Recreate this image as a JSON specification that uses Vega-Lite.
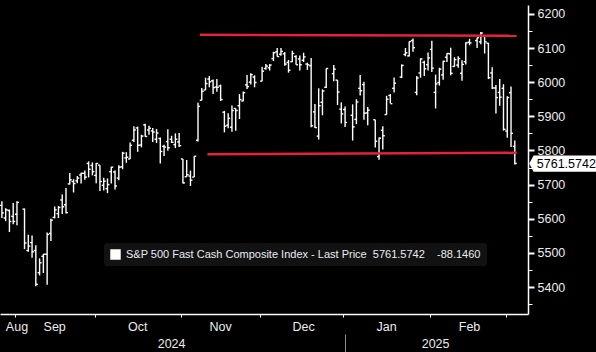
{
  "$schema": "https://vega.github.io/schema/vega-lite/v6.json",
  "width": 528,
  "height": 309,
  "autosize": {"type": "none"},
  "padding": {"left": 0, "top": 5, "right": 68, "bottom": 38},
  "background": "#000000",
  "config": {"view": {"stroke": null}, "font": "Liberation Sans"},
  "datasets": {
    "ohlc": [
      {"date":"2024-08-26","open":5639,"high":5651,"low":5602,"close":5617},
      {"date":"2024-08-27","open":5602,"high":5631,"low":5593,"close":5626},
      {"date":"2024-08-28","open":5624,"high":5627,"low":5561,"close":5592},
      {"date":"2024-08-29","open":5607,"high":5646,"low":5584,"close":5592},
      {"date":"2024-08-30","open":5613,"high":5651,"low":5581,"close":5648},
      {"date":"2024-09-03","open":5628,"high":5630,"low":5511,"close":5529},
      {"date":"2024-09-04","open":5507,"high":5553,"low":5503,"close":5520},
      {"date":"2024-09-05","open":5530,"high":5551,"low":5486,"close":5503},
      {"date":"2024-09-06","open":5507,"high":5522,"low":5402,"close":5408},
      {"date":"2024-09-09","open":5442,"high":5484,"low":5434,"close":5471},
      {"date":"2024-09-10","open":5490,"high":5497,"low":5441,"close":5496},
      {"date":"2024-09-11","open":5496,"high":5560,"low":5407,"close":5554},
      {"date":"2024-09-12","open":5557,"high":5600,"low":5535,"close":5596},
      {"date":"2024-09-13","open":5604,"high":5636,"low":5601,"close":5626},
      {"date":"2024-09-16","open":5615,"high":5637,"low":5602,"close":5633},
      {"date":"2024-09-17","open":5655,"high":5671,"low":5614,"close":5635},
      {"date":"2024-09-18","open":5641,"high":5690,"low":5615,"close":5618},
      {"date":"2024-09-19","open":5702,"high":5734,"low":5700,"close":5714},
      {"date":"2024-09-20","open":5709,"high":5716,"low":5677,"close":5703},
      {"date":"2024-09-23","open":5711,"high":5725,"low":5704,"close":5719},
      {"date":"2024-09-24","open":5728,"high":5735,"low":5703,"close":5733},
      {"date":"2024-09-25","open":5733,"high":5741,"low":5714,"close":5722},
      {"date":"2024-09-26","open":5762,"high":5768,"low":5721,"close":5745},
      {"date":"2024-09-27","open":5756,"high":5765,"low":5727,"close":5738},
      {"date":"2024-09-30","open":5727,"high":5763,"low":5704,"close":5762},
      {"date":"2024-10-01","open":5757,"high":5757,"low":5681,"close":5709},
      {"date":"2024-10-02","open":5698,"high":5720,"low":5683,"close":5710},
      {"date":"2024-10-03","open":5688,"high":5718,"low":5675,"close":5700},
      {"date":"2024-10-04","open":5738,"high":5752,"low":5703,"close":5751},
      {"date":"2024-10-07","open":5737,"high":5741,"low":5686,"close":5696},
      {"date":"2024-10-08","open":5719,"high":5757,"low":5713,"close":5751},
      {"date":"2024-10-09","open":5752,"high":5796,"low":5745,"close":5792},
      {"date":"2024-10-10","open":5778,"high":5795,"low":5764,"close":5780},
      {"date":"2024-10-11","open":5775,"high":5823,"low":5775,"close":5815},
      {"date":"2024-10-14","open":5830,"high":5871,"low":5825,"close":5860},
      {"date":"2024-10-15","open":5866,"high":5870,"low":5796,"close":5815},
      {"date":"2024-10-16","open":5816,"high":5846,"low":5809,"close":5842},
      {"date":"2024-10-17","open":5875,"high":5878,"low":5840,"close":5841},
      {"date":"2024-10-18","open":5860,"high":5872,"low":5846,"close":5865},
      {"date":"2024-10-21","open":5857,"high":5866,"low":5825,"close":5854},
      {"date":"2024-10-22","open":5833,"high":5863,"low":5822,"close":5851},
      {"date":"2024-10-23","open":5835,"high":5838,"low":5762,"close":5797},
      {"date":"2024-10-24","open":5812,"high":5817,"low":5784,"close":5810},
      {"date":"2024-10-25","open":5826,"high":5862,"low":5799,"close":5808},
      {"date":"2024-10-28","open":5833,"high":5843,"low":5822,"close":5824},
      {"date":"2024-10-29","open":5817,"high":5850,"low":5807,"close":5833},
      {"date":"2024-10-30","open":5825,"high":5851,"low":5810,"close":5814},
      {"date":"2024-10-31","open":5775,"high":5775,"low":5703,"close":5705},
      {"date":"2024-11-01","open":5723,"high":5772,"low":5723,"close":5729},
      {"date":"2024-11-04","open":5725,"high":5741,"low":5696,"close":5713},
      {"date":"2024-11-05","open":5722,"high":5783,"low":5722,"close":5783},
      {"date":"2024-11-06","open":5830,"high":5940,"low":5826,"close":5929},
      {"date":"2024-11-07","open":5947,"high":5983,"low":5947,"close":5973},
      {"date":"2024-11-08","open":5977,"high":6013,"low":5977,"close":5996},
      {"date":"2024-11-11","open":6009,"high":6018,"low":5985,"close":6001},
      {"date":"2024-11-12","open":6004,"high":6008,"low":5965,"close":5984},
      {"date":"2024-11-13","open":5986,"high":6009,"low":5972,"close":5985},
      {"date":"2024-11-14","open":5989,"high":5993,"low":5945,"close":5949},
      {"date":"2024-11-15","open":5912,"high":5916,"low":5853,"close":5871},
      {"date":"2024-11-18","open":5874,"high":5909,"low":5865,"close":5894},
      {"date":"2024-11-19","open":5868,"high":5932,"low":5855,"close":5917},
      {"date":"2024-11-20","open":5923,"high":5923,"low":5858,"close":5917},
      {"date":"2024-11-21","open":5931,"high":5965,"low":5892,"close":5949},
      {"date":"2024-11-22","open":5945,"high":5973,"low":5944,"close":5969},
      {"date":"2024-11-25","open":5992,"high":6021,"low":5980,"close":5987},
      {"date":"2024-11-26","open":6000,"high":6026,"low":5993,"close":6022},
      {"date":"2024-11-27","open":6015,"high":6020,"low":5985,"close":5999},
      {"date":"2024-11-29","open":6003,"high":6045,"low":6003,"close":6032},
      {"date":"2024-12-02","open":6040,"high":6053,"low":6036,"close":6047},
      {"date":"2024-12-03","open":6042,"high":6053,"low":6034,"close":6050},
      {"date":"2024-12-04","open":6069,"high":6089,"low":6062,"close":6086},
      {"date":"2024-12-05","open":6089,"high":6100,"low":6075,"close":6075},
      {"date":"2024-12-06","open":6082,"high":6100,"low":6077,"close":6090},
      {"date":"2024-12-09","open":6083,"high":6088,"low":6048,"close":6053},
      {"date":"2024-12-10","open":6058,"high":6065,"low":6028,"close":6035},
      {"date":"2024-12-11","open":6060,"high":6092,"low":6059,"close":6084},
      {"date":"2024-12-12","open":6075,"high":6079,"low":6051,"close":6051},
      {"date":"2024-12-13","open":6068,"high":6078,"low":6034,"close":6051},
      {"date":"2024-12-16","open":6064,"high":6086,"low":6059,"close":6074},
      {"date":"2024-12-17","open":6053,"high":6057,"low":6036,"close":6051},
      {"date":"2024-12-18","open":6048,"high":6071,"low":5868,"close":5872},
      {"date":"2024-12-19","open":5913,"high":5936,"low":5866,"close":5867},
      {"date":"2024-12-20","open":5842,"high":5982,"low":5832,"close":5931},
      {"date":"2024-12-23","open":5941,"high":5979,"low":5903,"close":5974},
      {"date":"2024-12-24","open":5985,"high":6040,"low":5983,"close":6040},
      {"date":"2024-12-26","open":6025,"high":6050,"low":6003,"close":6038},
      {"date":"2024-12-27","open":6006,"high":6006,"low":5933,"close":5971},
      {"date":"2024-12-30","open":5921,"high":5941,"low":5879,"close":5907},
      {"date":"2024-12-31","open":5920,"high":5929,"low":5869,"close":5882},
      {"date":"2025-01-02","open":5903,"high":5935,"low":5829,"close":5869},
      {"date":"2025-01-03","open":5891,"high":5950,"low":5877,"close":5942},
      {"date":"2025-01-06","open":5982,"high":6021,"low":5961,"close":5975},
      {"date":"2025-01-07","open":5993,"high":6001,"low":5890,"close":5909},
      {"date":"2025-01-08","open":5910,"high":5927,"low":5874,"close":5918},
      {"date":"2025-01-10","open":5890,"high":5890,"low":5809,"close":5827},
      {"date":"2025-01-13","open":5782,"high":5838,"low":5773,"close":5836},
      {"date":"2025-01-14","open":5859,"high":5871,"low":5803,"close":5843},
      {"date":"2025-01-15","open":5905,"high":5960,"low":5905,"close":5950},
      {"date":"2025-01-16","open":5961,"high":5965,"low":5938,"close":5937},
      {"date":"2025-01-17","open":5982,"high":6014,"low":5970,"close":5997},
      {"date":"2025-01-21","open":6015,"high":6052,"low":6012,"close":6049},
      {"date":"2025-01-22","open":6081,"high":6100,"low":6076,"close":6086},
      {"date":"2025-01-23","open":6077,"high":6119,"low":6075,"close":6119},
      {"date":"2025-01-24","open":6122,"high":6128,"low":6089,"close":6101},
      {"date":"2025-01-27","open":5970,"high":6018,"low":5962,"close":6012},
      {"date":"2025-01-28","open":6027,"high":6070,"low":6013,"close":6068},
      {"date":"2025-01-29","open":6058,"high":6063,"low":6018,"close":6039},
      {"date":"2025-01-30","open":6051,"high":6087,"low":6034,"close":6071},
      {"date":"2025-01-31","open":6096,"high":6121,"low":6030,"close":6041},
      {"date":"2025-02-03","open":5970,"high":6022,"low":5923,"close":5995},
      {"date":"2025-02-04","open":5999,"high":6042,"low":5990,"close":6038},
      {"date":"2025-02-05","open":6021,"high":6063,"low":6007,"close":6061},
      {"date":"2025-02-06","open":6073,"high":6085,"low":6059,"close":6084},
      {"date":"2025-02-07","open":6083,"high":6101,"low":6020,"close":6026},
      {"date":"2025-02-10","open":6046,"high":6073,"low":6045,"close":6066},
      {"date":"2025-02-11","open":6050,"high":6076,"low":6042,"close":6069},
      {"date":"2025-02-12","open":6026,"high":6064,"low":6004,"close":6052},
      {"date":"2025-02-13","open":6060,"high":6117,"low":6052,"close":6115},
      {"date":"2025-02-14","open":6117,"high":6127,"low":6108,"close":6115},
      {"date":"2025-02-18","open":6122,"high":6130,"low":6100,"close":6130},
      {"date":"2025-02-19","open":6118,"high":6147,"low":6111,"close":6144},
      {"date":"2025-02-20","open":6134,"high":6134,"low":6084,"close":6118},
      {"date":"2025-02-21","open":6114,"high":6115,"low":6009,"close":6013},
      {"date":"2025-02-24","open":6027,"high":6044,"low":5980,"close":5983},
      {"date":"2025-02-25","open":5983,"high":5992,"low":5908,"close":5955},
      {"date":"2025-02-26","open":5970,"high":6009,"low":5931,"close":5956},
      {"date":"2025-02-27","open":5982,"high":5994,"low":5858,"close":5862},
      {"date":"2025-02-28","open":5857,"high":5959,"low":5837,"close":5955},
      {"date":"2025-03-03","open":5969,"high":5987,"low":5810,"close":5850},
      {"date":"2025-03-04","open":5812,"high":5829,"low":5759,"close":5762}
    ],
    "levels": [
      {"date":"2024-11-07","date2":"2025-03-05","v1":6139,"v2":6136},
      {"date":"2024-11-11","date2":"2025-03-05","v1":5789,"v2":5793}
    ],
    "last": [
      {"date":"2025-03-04","price":5761.5742,"label":"5761.5742"}
    ]
  },
  "layer": [
    {
      "data": {"name": "ohlc"},
      "mark": {"type": "rule", "strokeWidth": 1.4},
      "encoding": {
        "x": {
          "field": "date", "type": "ordinal",
          "scale": {
            "type": "band", "paddingInner": 0, "paddingOuter": 0,
            "domain": ["2024-08-26","2024-08-27","2024-08-28","2024-08-29","2024-08-30",
              "2024-09-02","2024-09-03","2024-09-04","2024-09-05","2024-09-06","2024-09-09","2024-09-10","2024-09-11","2024-09-12","2024-09-13","2024-09-16","2024-09-17","2024-09-18","2024-09-19","2024-09-20","2024-09-23","2024-09-24","2024-09-25","2024-09-26","2024-09-27","2024-09-30",
              "2024-10-01","2024-10-02","2024-10-03","2024-10-04","2024-10-07","2024-10-08","2024-10-09","2024-10-10","2024-10-11","2024-10-14","2024-10-15","2024-10-16","2024-10-17","2024-10-18","2024-10-21","2024-10-22","2024-10-23","2024-10-24","2024-10-25","2024-10-28","2024-10-29","2024-10-30","2024-10-31",
              "2024-11-01","2024-11-04","2024-11-05","2024-11-06","2024-11-07","2024-11-08","2024-11-11","2024-11-12","2024-11-13","2024-11-14","2024-11-15","2024-11-18","2024-11-19","2024-11-20","2024-11-21","2024-11-22","2024-11-25","2024-11-26","2024-11-27","2024-11-28","2024-11-29",
              "2024-12-02","2024-12-03","2024-12-04","2024-12-05","2024-12-06","2024-12-09","2024-12-10","2024-12-11","2024-12-12","2024-12-13","2024-12-16","2024-12-17","2024-12-18","2024-12-19","2024-12-20","2024-12-23","2024-12-24","2024-12-25","2024-12-26","2024-12-27","2024-12-30","2024-12-31",
              "2025-01-01","2025-01-02","2025-01-03","2025-01-06","2025-01-07","2025-01-08","2025-01-09","2025-01-10","2025-01-13","2025-01-14","2025-01-15","2025-01-16","2025-01-17","2025-01-20","2025-01-21","2025-01-22","2025-01-23","2025-01-24","2025-01-27","2025-01-28","2025-01-29","2025-01-30","2025-01-31",
              "2025-02-03","2025-02-04","2025-02-05","2025-02-06","2025-02-07","2025-02-10","2025-02-11","2025-02-12","2025-02-13","2025-02-14","2025-02-17","2025-02-18","2025-02-19","2025-02-20","2025-02-21","2025-02-24","2025-02-25","2025-02-26","2025-02-27","2025-02-28",
              "2025-03-03","2025-03-04","2025-03-05","2025-03-06","2025-03-07"]
          },
          "axis": {
            "orient": "bottom",
            "values": ["2024-08-30","2024-09-30","2024-10-31","2024-11-29","2024-12-31","2025-01-31","2025-02-28"],
            "bandPosition": 0.2,
            "labels": false, "title": null, "grid": false,
            "domainColor": "#ffffff", "domainWidth": 1.5,
            "tickColor": "#ffffff", "tickSize": 3, "tickWidth": 1
          }
        },
        "y": {
          "field": "low", "type": "quantitative",
          "scale": {"domain": [5321, 6226], "nice": false, "zero": false},
          "axis": {
            "orient": "right", "title": null, "grid": false,
            "values": [5400,5500,5600,5700,5800,5900,6000,6100,6200],
            "format": "d",
            "labelOverlap": false, "labelBound": false, "labelFlush": false,
            "domainColor": "#ffffff", "domainWidth": 1.5,
            "tickColor": "#ffffff", "tickSize": 6, "tickWidth": 2,
            "labelPadding": 3, "labelColor": "#ececec", "labelFontSize": 12.5,
            "labelFont": "Liberation Sans", "labelBaseline": "middle", "labelAlign": "left"
          }
        },
        "y2": {"field": "high"},
        "color": {
          "datum": "S&P 500 Fast Cash Composite Index - Last Price\u00a0\u00a05761.5742\u00a0\u00a0\u00a0\u00a0-88.1460",
          "scale": {"range": ["#ffffff"]},
          "legend": {
            "orient": "none", "legendX": 104, "legendY": 238,
            "title": null, "fillColor": "#121212", "cornerRadius": 3,
            "padding": 6, "symbolType": "square", "symbolSize": 110,
            "symbolFillColor": "#ffffff", "symbolStrokeColor": "#ffffff", "symbolStrokeWidth": 0,
            "symbolOpacity": 1,
            "labelColor": "#e8ecf2", "labelFontSize": 11, "labelFont": "Liberation Sans",
            "labelLimit": 0, "labelOffset": 5
          }
        }
      }
    },
    {
      "data": {"name": "ohlc"},
      "mark": {"type": "tick", "color": "#ffffff", "size": 2, "thickness": 1.4, "xOffset": -1, "opacity": 1},
      "encoding": {
        "x": {
          "field": "date", "type": "ordinal",
          "axis": {
            "orient": "bottom",
            "values": ["2024-08-30","2024-09-13","2024-10-15","2024-11-14","2024-12-16","2025-01-15","2025-02-14"],
            "labelExpr": "utcFormat(toDate(datum.value), '%b')",
            "ticks": false, "tickSize": 0, "domain": false, "grid": false, "title": null,
            "labelAngle": 0, "labelAlign": "center", "labelBaseline": "top",
            "labelPadding": 6, "labelColor": "#ececec", "labelFontSize": 12.5,
            "labelFont": "Liberation Sans", "labelOverlap": false, "labelBound": false
          }
        },
        "y": {
          "field": "open", "type": "quantitative",
          "axis": {
            "orient": "right", "title": null, "grid": false, "labels": false, "domain": false,
            "values": [5350,5450,5550,5650,5750,5850,5950,6050,6150],
            "tickColor": "#ffffff", "tickSize": 4, "tickWidth": 1
          }
        }
      }
    },
    {
      "data": {"name": "ohlc"},
      "mark": {"type": "tick", "color": "#ffffff", "size": 2, "thickness": 1.4, "xOffset": 1, "opacity": 1},
      "encoding": {
        "x": {
          "field": "date", "type": "ordinal",
          "axis": {
            "orient": "bottom",
            "values": ["2024-10-28","2024-12-31","2025-02-03"],
            "labelExpr": "datum.value === '2024-10-28' ? '2024' : (datum.value === '2025-02-03' ? '2025' : '')",
            "offset": 20, "ticks": true, "tickSize": 18, "tickWidth": 1, "tickColor": "#8a8a8a",
            "tickOpacity": {"condition": {"test": "datum.value === '2024-12-31'", "value": 1}, "value": 0},
            "domain": false, "grid": false, "title": null,
            "labelAngle": 0, "labelAlign": "center", "labelBaseline": "top",
            "labelPadding": -14.5, "labelColor": "#ececec", "labelFontSize": 12.5,
            "labelFont": "Liberation Sans", "labelOverlap": false, "labelBound": false
          }
        },
        "y": {"field": "close", "type": "quantitative", "axis": null}
      }
    },
    {
      "data": {"name": "levels"},
      "mark": {"type": "rule", "color": "#e5213b", "strokeWidth": 2.5},
      "encoding": {
        "x": {"field": "date", "type": "ordinal", "bandPosition": 0, "axis": null},
        "x2": {"field": "date2", "bandPosition": 0},
        "y": {"field": "v1", "type": "quantitative", "axis": null},
        "y2": {"field": "v2"}
      }
    },
    {
      "data": {"name": "last"},
      "mark": {
        "type": "point", "filled": true, "fill": "#ffffff", "strokeWidth": 0, "opacity": 1,
        "shape": "M-1,0 L-0.88,-0.23 L1,-0.23 L1,0.23 L-0.88,0.23 Z",
        "size": 5041, "xOffset": 50
      },
      "encoding": {
        "x": {"field": "date", "type": "ordinal", "axis": null},
        "y": {"field": "price", "type": "quantitative", "axis": null}
      }
    },
    {
      "data": {"name": "last"},
      "mark": {"type": "text", "align": "left", "baseline": "middle", "dx": 22, "color": "#000000", "fontSize": 12.5, "font": "Liberation Sans"},
      "encoding": {
        "x": {"field": "date", "type": "ordinal", "axis": null},
        "y": {"field": "price", "type": "quantitative", "axis": null},
        "text": {"field": "label"}
      }
    }
  ],
  "resolve": {"axis": {"x": "independent", "y": "independent"}}
}
